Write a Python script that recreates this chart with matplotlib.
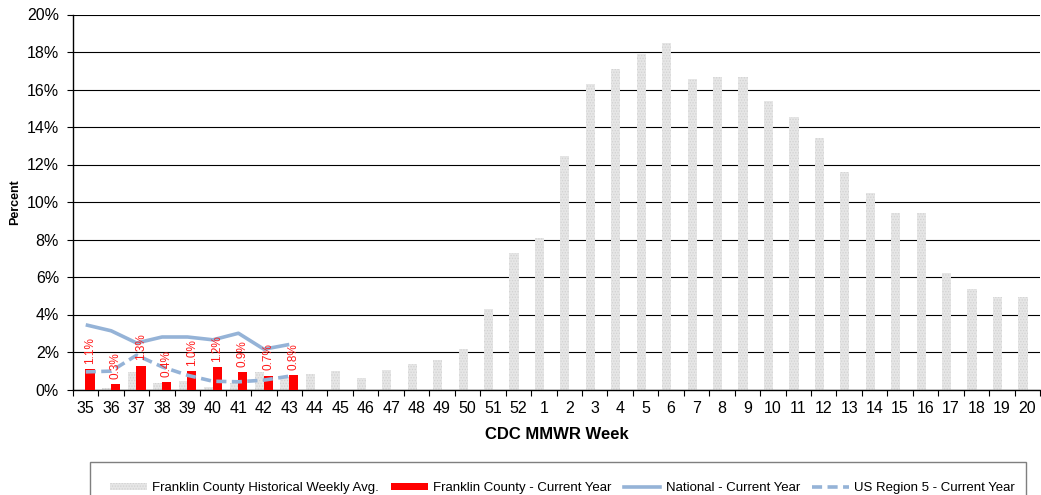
import numpy as np
import matplotlib.pyplot as plt
from matplotlib.patches import Patch, Rectangle
from matplotlib.lines import Line2D

plt.rcParams["font.family"] = ["Liberation Sans", "DejaVu Sans"]
plt.rcParams["hatch.linewidth"] = 0.6

weeks = [str(w) for w in range(35, 53)] + [str(w) for w in range(1, 21)]

hist_avg = [0.0, 0.1, 0.94, 0.35, 0.46, 0.16, 0.34, 0.94, 0.65,
            0.83, 1.0, 0.64, 1.06, 1.38, 1.58, 2.18, 4.31, 7.29,
            8.09, 12.45, 16.27, 17.12, 17.88, 18.5, 16.55, 16.66, 16.66, 15.38,
            14.52, 13.44, 11.59, 10.47, 9.44, 9.44, 6.22, 5.37, 4.96, 4.91]

current = [1.08, 0.27, 1.26, 0.38, 0.98, 1.19, 0.93, 0.72, 0.77]
national = [3.45, 3.13, 2.48, 2.8, 2.8, 2.65, 3.0, 2.15, 2.4]
region5 = [0.94, 0.98, 1.83, 1.21, 0.76, 0.44, 0.41, 0.5, 0.71]

x = np.arange(len(weeks))
xc = np.arange(len(current))
line_col = "#95B3D7"
w = 0.36

fig = plt.figure(figsize=(10.41, 4.95), dpi=100)
ax = fig.add_axes([73 / 1041, 1 - 389.5 / 495, 967 / 1041, 375 / 495])

ax.bar(x - 0.17, hist_avg, width=w, facecolor="#e6e6e6", edgecolor="#d2d2d2",
       hatch="......", linewidth=0, zorder=2)
bars = ax.bar(xc + 0.17, current, width=w, color="#ff0000", linewidth=0, zorder=3)
for b, v in zip(bars, current):
    ax.annotate(f"{v:.1f}%", (b.get_x() + b.get_width() / 2, v),
                xytext=(0, 4), textcoords="offset points", rotation=90,
                ha="center", va="bottom", color="#ff1a1a", fontsize=8.5, zorder=5)

ax.plot(xc, national, color=line_col, lw=2.6, zorder=4, solid_capstyle="butt")
ax.plot(xc, region5, color=line_col, lw=2.6, dashes=(2.8, 1.5), zorder=4)

ax.set_xlim(-0.5, len(weeks) - 0.5)
ax.set_ylim(0, 20)
ax.set_yticks(np.arange(0, 21, 2))
ax.set_yticklabels([f"{v}%" for v in range(0, 21, 2)])
ax.set_xticks(x)
ax.set_xticklabels(weeks)
ax.set_xticks(np.arange(-0.5, len(weeks)), minor=True)
ax.tick_params(axis="x", which="major", length=0, pad=8, labelsize=11.5)
ax.tick_params(axis="x", which="minor", length=4.5, width=0.8, direction="out")
ax.tick_params(axis="y", length=4, width=0.8, pad=6, labelsize=11.5)

ax.set_axisbelow(True)
ax.yaxis.grid(True, color="black", lw=0.8)
for s in ["top", "right"]:
    ax.spines[s].set_visible(False)
ax.spines["left"].set_linewidth(1)
ax.spines["bottom"].set_linewidth(1)

ax.set_xlabel("CDC MMWR Week", fontsize=12, fontweight="bold", labelpad=8)
ax.set_ylabel("Percent", fontsize=9, fontweight="bold", labelpad=4)

handles = [
    Patch(facecolor="#e6e6e6", edgecolor="#d2d2d2", hatch="......", linewidth=0),
    Patch(facecolor="#ff0000", linewidth=0),
    Line2D([], [], color=line_col, lw=2.6),
    Line2D([], [], color=line_col, lw=2.6, dashes=(2.8, 1.5)),
]
labels = ["Franklin County Historical Weekly Avg.", "Franklin County - Current Year",
          "National - Current Year", "US Region 5 - Current Year"]
fig.legend(handles, labels, loc="center", bbox_to_anchor=(562.5 / 1041, 1 - 488 / 495),
           ncol=4, frameon=False, fontsize=9.5, handlelength=2.8, handleheight=0.45,
           handletextpad=0.4, columnspacing=0.9)
fig.patches.append(Rectangle((90 / 1041, -0.05), 936 / 1041, (495 - 461.7) / 495 + 0.05,
                             transform=fig.transFigure, fill=False,
                             edgecolor="#7f7f7f", lw=1))

fig.savefig("out.png", dpi=100)
